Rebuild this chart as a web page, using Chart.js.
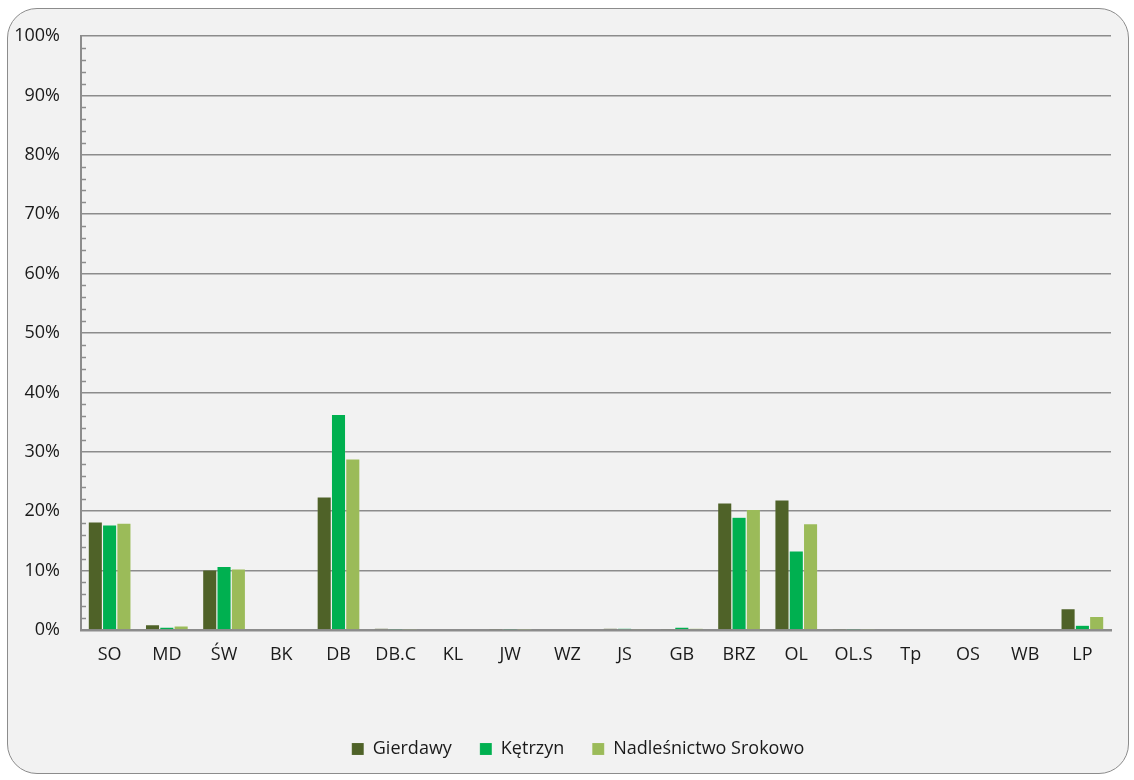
<!DOCTYPE html>
<html>
<head>
<meta charset="utf-8">
<script src="https://cdn.jsdelivr.net/npm/chart.js@4/dist/chart.umd.min.js"></script>
<style>
  html, body { margin:0; padding:0; background:#ffffff; width:1134px; height:780px; overflow:hidden; }
  #frame { position:absolute; left:7px; top:8px; width:1120px; height:764px; border:1.5px solid #8c8c8c; border-radius:30px; background:#f2f2f2; }
  #wrap { position:absolute; left:0; top:0; width:1134px; height:780px; }
</style>
</head>
<body>
<div id="frame"></div>
<div id="wrap"><canvas id="c" width="1134" height="780"></canvas></div>
<script>
const categories = ['SO','MD','ŚW','BK','DB','DB.C','KL','JW','WZ','JS','GB','BRZ','OL','OL.S','Tp','OS','WB','LP'];
const gierdawy = [18.2,0.9,10.1,0,22.4,0.3,0,0.05,0,0.3,0.2,21.4,21.9,0.05,0,0,0,3.6];
const ketrzyn  = [17.7,0.5,10.7,0,36.3,0.05,0,0.05,0,0.3,0.5,19.0,13.3,0.05,0,0,0,0.8];
const srokowo  = [18.0,0.7,10.3,0,28.8,0.05,0,0.02,0,0.2,0.3,20.3,17.9,0.05,0,0,0,2.3];
const yTicks = [0,10,20,30,40,50,60,70,80,90,100];
const seriesNames = ['Gierdawy','Kętrzyn','Nadleśnictwo Srokowo'];
const seriesColors = ['#4f6228','#00b050','#9bbb59'];

const FONT = "'Open Sans', sans-serif";

const minorTicks = {
  id: 'minorTicks',
  afterLayout(chart) {
    // centre the legend under the plot area instead of the whole canvas
    const lg = chart.legend;
    if (lg) {
      const shift = ((chart.chartArea.left + chart.chartArea.right) / 2) - ((lg.left + lg.right) / 2) - 18;
      lg.left += shift; lg.right += shift;
    }
  },
  afterDatasetsDraw(chart) {
    const y = chart.scales.y, x = chart.scales.x;
    const ctx = chart.ctx;
    ctx.save();
    ctx.strokeStyle = '#8c8c8c';
    ctx.lineWidth = 1.5;
    for (let v = 0; v <= 100; v += 2) {
      if (v % 10 === 0) continue;
      const py = Math.round(y.getPixelForValue(v)) + 0.5;
      ctx.beginPath();
      ctx.moveTo(x.left, py);
      ctx.lineTo(x.left + 5, py);
      ctx.stroke();
    }
    ctx.restore();
  }
};

new Chart(document.getElementById('c'), {
  type: 'bar',
  data: {
    labels: categories,
    datasets: [
      { label: seriesNames[0], data: gierdawy, backgroundColor: seriesColors[0], borderColor: 'rgba(255,255,255,0.18)', borderWidth: 0.6 },
      { label: seriesNames[1], data: ketrzyn,  backgroundColor: seriesColors[1], borderColor: 'rgba(255,255,255,0.18)', borderWidth: 0.6 },
      { label: seriesNames[2], data: srokowo,  backgroundColor: seriesColors[2], borderColor: 'rgba(255,255,255,0.18)', borderWidth: 0.6 }
    ]
  },
  options: {
    responsive: false,
    animation: false,
    devicePixelRatio: 1,
    layout: { padding: { left: 0, top: 36, right: 23, bottom: 12 } },
    datasets: { bar: { categoryPercentage: 0.75, barPercentage: 1.0 } },
    plugins: {
      tooltip: { enabled: false },
      legend: {
        position: 'bottom',
        labels: {
          font: { family: FONT, size: 18 },
          color: '#1a1a1a',
          boxWidth: 12,
          boxHeight: 12,
          padding: 28,
          useBorderRadius: false
        }
      }
    },
    scales: {
      x: {
        grid: { display: false, drawTicks: false },
        border: { display: true, color: '#8c8c8c', width: 2.5 },
        ticks: { font: { family: FONT, size: 18 }, color: '#1a1a1a', padding: 14, maxRotation: 0, autoSkip: false },
        afterFit(scale) { scale.height = 82; }
      },
      y: {
        min: 0, max: 100,
        afterBuildTicks(scale) { scale.ticks = yTicks.map(v => ({ value: v })); },
        grid: { color: '#8c8c8c', lineWidth: 1.5, drawTicks: false },
        border: { display: true, color: '#8c8c8c', width: 2 },
        ticks: { font: { family: FONT, size: 18 }, color: '#1a1a1a', padding: 21, callback: v => v + '%' },
        afterFit(scale) { scale.width = 81; }
      }
    }
  },
  plugins: [minorTicks]
});
</script>
</body>
</html>
